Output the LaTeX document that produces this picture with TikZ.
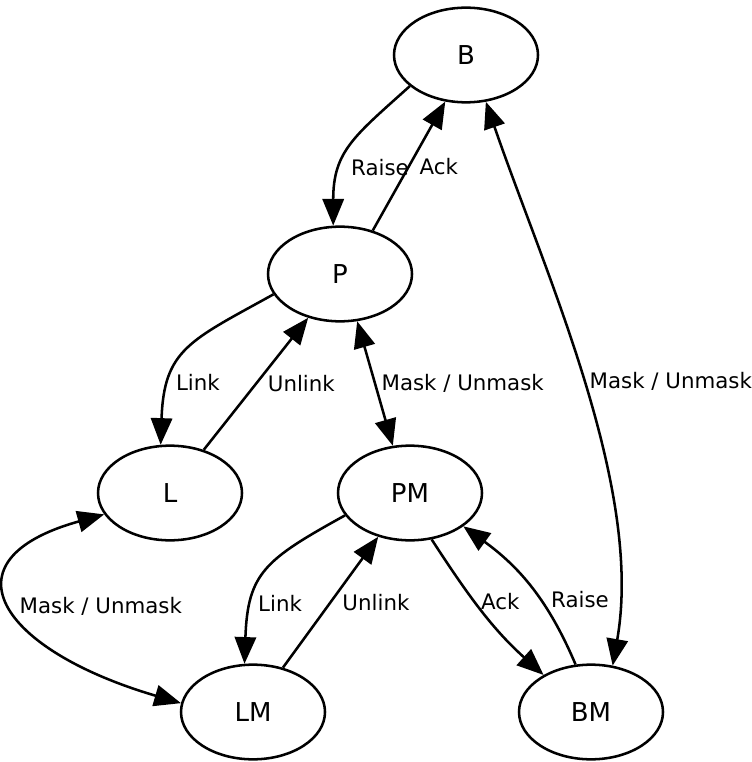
\documentclass[tikz,border=0pt]{standalone}
\usepackage{fontspec}
\setmainfont{DejaVu Sans}
\usetikzlibrary{shapes.geometric,arrows.meta,positioning}

\begin{document}
\begin{tikzpicture}[x=0.75pt, y=-0.75pt, node distance=164.25pt, line width=1.9pt,
  state/.style={draw, ellipse, minimum width=108pt, minimum height=71pt, inner sep=0pt, font=\fontsize{19.5}{23}\selectfont},
  lbl/.style={font=\fontsize{16}{19}\selectfont, inner sep=4pt},
  >={Triangle[length=20pt, width=16pt]}]
\useasboundingbox (0,0) rectangle (751,762);
% Zustaende
\node[state] (B) at (466,55) {B};
\node[state, below of=B, xshift=-94.5pt] (P) {P};
\node[state, below of=P, xshift=-127.5pt] (L) {L};
\node[state, below of=P, xshift=52.5pt] (PM) {PM};
\node[state, below of=L, xshift=62.25pt] (LM) {LM};
\node[state, below of=PM, xshift=135.75pt] (BM) {BM};

% Uebergaenge
\draw[->] (B.209) to[out=222, in=90, looseness=1.2] node[lbl, pos=0.67, right, xshift=3pt] {Raise} (P.98);
\draw[->] (P.53) -- node[lbl, right, xshift=3pt] {Ack} (B.246);
\draw[<->] (B.293) to[out=-71, in=80, looseness=0.8] node[lbl, right] {Mask / Unmask} (BM.65);
\draw[->] (P.197) to[out=209, in=88, looseness=1.3] node[lbl, pos=0.72, right] {Link} (L.101);
\draw[->] (L.52) -- node[lbl, right, xshift=4pt] {Unlink} (P.234);
\draw[<->] (P.290) -- node[lbl, right] {Mask / Unmask} (PM.110);
\draw[<->] (L.198) .. controls (-60,560) and (0,650) .. node[lbl, right] {Mask / Unmask} (LM.173);
\draw[->] (PM.199) to[out=209, in=88, looseness=1.3] node[lbl, pos=0.72, right] {Link} (LM.100);
\draw[->] (LM.56) -- node[lbl, right, xshift=4pt] {Unlink} (PM.234);
\draw[->] (PM.295) to[out=-57, in=138] node[lbl, pos=0.42, right] {Ack} (BM.142);
\draw[->] (BM.108) to[out=113, in=-36] node[lbl, pos=0.4, right, xshift=3pt] {Raise} (PM.328);
\end{tikzpicture}
\end{document}
